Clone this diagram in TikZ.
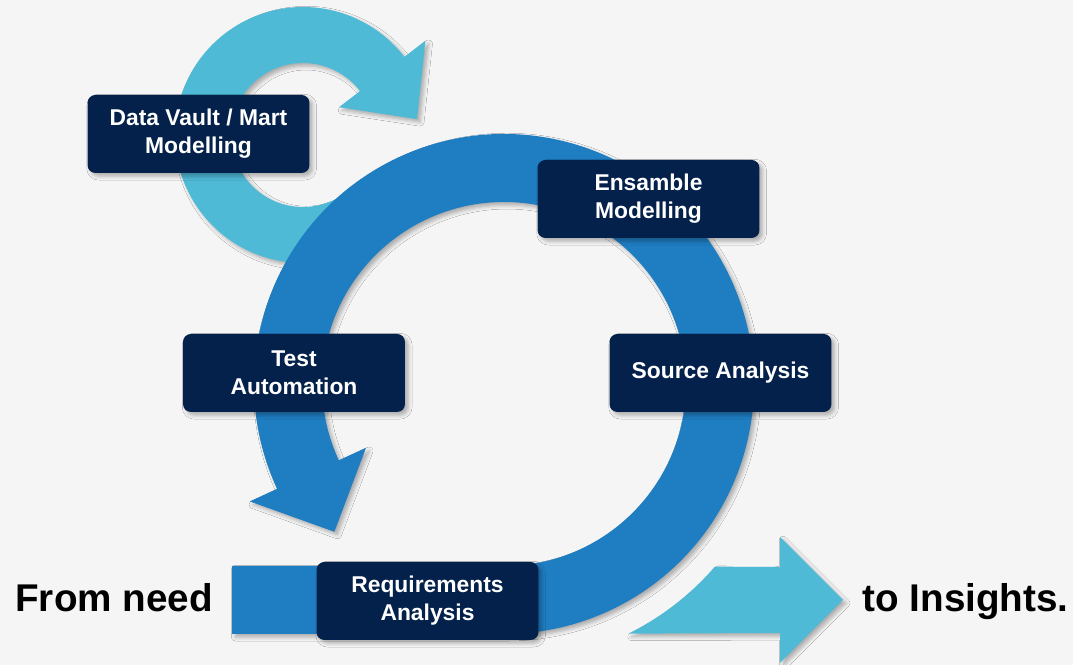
\documentclass[tikz,border=0pt]{standalone}
\usepackage{fontspec}
\setmainfont{Liberation Sans}
\usepackage{xcolor}
\usetikzlibrary{calc,shadows.blur}
\definecolor{bgGray}{HTML}{F5F5F5}
\definecolor{ringBlue}{HTML}{1F7DC2}
\definecolor{skyBlue}{HTML}{4FBAD6}
\definecolor{boxNavy}{HTML}{03214A}

\begin{document}
\begin{tikzpicture}[x=0.02cm,y=0.02cm,
	soft shade/.style={blur shadow={shadow xshift=1.8pt,shadow yshift=-1.8pt,shadow blur radius=2.2pt,shadow opacity=30}},
	phase node/.style={rectangle,rounded corners=4.5pt,fill=boxNavy,text=white,soft shade,
		font=\bfseries\fontsize{13}{16}\selectfont,align=center,minimum width=4.44cm,minimum height=1.56cm},
	end text/.style={inner sep=0pt,font=\bfseries\fontsize{22}{24}\selectfont,text=black}]
		% Frame
		  \useasboundingbox (0,0) rectangle (1073,665);
		  \fill[bgGray] (0,0) rectangle (1073,665);
		  \coordinate (C) at (504,281);
		  \coordinate (L) at (303,530);
		
		% Arrows
		  %small loop
		  \fill[skyBlue,soft shade] ($(L)+(-48:128)$) arc[start angle=-48,end angle=-322.4,radius=128]
		    -- ($(L)+(37.6:154.5)$) -- ($(L)+(37.6:100)+(-52.4:57)$) -- ($(L)+(37.6:45.5)$)
		    -- ($(L)+(37.6:72)$) arc[start angle=37.6,end angle=312,radius=72] -- cycle;
		  
		  %big loop
		  \fill[ringBlue,soft shade] (232,99) -- (504,99) arc[start angle=-90,end angle=204.8,radius=182]
		    -- ($(C)+(204.8:152)$) -- ($(C)+(204.8:216)+(-65.2:63)$) -- ($(C)+(204.8:280)$)
		    -- ($(C)+(204.8:250)$) arc[start angle=204.8,end angle=-90,radius=250] -- (232,31) -- cycle;
		  
		  %way out
		  \fill[skyBlue,soft shade] ($(C)+(-63.5:279)$) arc[start angle=-63.5,end angle=-40.9,radius=279]
		    -- (780,98) -- (780,128) -- (843,65) -- (780,2) -- (780,32) -- cycle;
		
		% Nodes
		  \node (vault) at (198.5,531) [phase node] {Data Vault / Mart\\Modelling};
		  \node (ensamble) at (648.5,466) [phase node] {Ensamble\\Modelling};
		  \node (test) at (294,292) [phase node] {Test\\Automation};
		  \node (source) at (720.5,292) [phase node] {Source Analysis};
		  \node (reqs) at (427.5,64) [phase node] {Requirements\\Analysis};
		  
		  \node (need) at (15,53) [end text,anchor=base west] {From need};
		  \node (insights) at (1069,53) [end text,anchor=base east] {to Insights.};
		
		\end{tikzpicture}
\end{document}
